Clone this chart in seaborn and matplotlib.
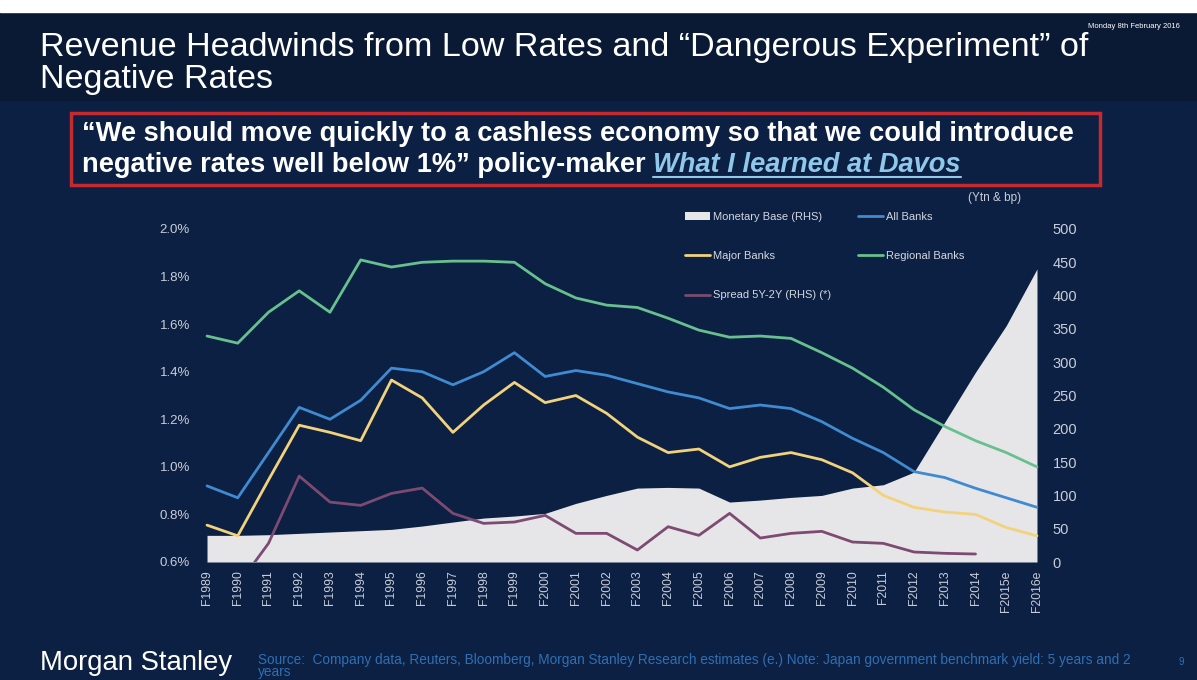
import numpy as np
import pandas as pd
import matplotlib
matplotlib.use("Agg")
import matplotlib.pyplot as plt
from matplotlib.patches import Rectangle, Patch
from matplotlib.lines import Line2D
import seaborn as sns

# ---- data -------------------------------------------------------------
years = ["F1989", "F1990", "F1991", "F1992", "F1993", "F1994", "F1995",
         "F1996", "F1997", "F1998", "F1999", "F2000", "F2001", "F2002",
         "F2003", "F2004", "F2005", "F2006", "F2007", "F2008", "F2009",
         "F2010", "F2011", "F2012", "F2013", "F2014", "F2015e", "F2016e"]

# net interest margins (%), left axis
all_banks = [0.92, 0.87, 1.06, 1.25, 1.20, 1.28, 1.415, 1.40, 1.345, 1.40,
             1.48, 1.38, 1.405, 1.385, 1.35, 1.315, 1.29, 1.245, 1.26, 1.245,
             1.19, 1.12, 1.06, 0.98, 0.955, 0.91, 0.87, 0.83]
major_banks = [0.755, 0.71, 0.945, 1.175, 1.145, 1.11, 1.365, 1.29, 1.145,
               1.26, 1.355, 1.27, 1.30, 1.225, 1.125, 1.06, 1.075, 1.00,
               1.04, 1.06, 1.03, 0.975, 0.88, 0.83, 0.81, 0.80, 0.745, 0.71]
regional_banks = [1.55, 1.52, 1.65, 1.74, 1.65, 1.87, 1.84, 1.86, 1.865,
                  1.865, 1.86, 1.77, 1.71, 1.68, 1.67, 1.625, 1.575, 1.545,
                  1.55, 1.54, 1.48, 1.415, 1.335, 1.24, 1.17, 1.11, 1.06, 1.00]

# right axis: Ytn and bp
monetary_base = [40, 40, 41, 43, 45, 47, 49, 54, 60, 66, 69, 73, 88, 100,
                 111, 112, 111, 90, 93, 97, 100, 111, 116, 135, 210, 285,
                 355, 440]
spread_5y2y = [-25, -35, 28, 129, 90, 85, 103, 111, 73, 58, 60, 70, 43, 43,
               18, 53, 40, 73, 36, 43, 46, 30, 28, 15, 13, 12, np.nan, np.nan]

left_ticks = [0.6, 0.8, 1.0, 1.2, 1.4, 1.6, 1.8, 2.0]
right_ticks = list(range(0, 501, 50))

# ---- styling ----------------------------------------------------------
sns.set_theme(style="dark")
plt.rcParams["font.family"] = ["Liberation Sans", "DejaVu Sans"]

BG = "#0b2043"
TITLE_BG = "#0a1a35"
C_ALL = "#3f8ad0"
C_MAJOR = "#f2d27c"
C_REG = "#67c08e"
C_SPREAD = "#7d4a72"
C_BASE = "#e6e6e9"
TICK_C = "#c9cdd8"
SRC_C = "#2f6fb3"

W, H = 1197, 680
fig = plt.figure(figsize=(W / 100, H / 100), dpi=100)
fig.patch.set_facecolor(BG)


def fx(px):
    return px / W


def fy(py):
    return 1 - py / H


# header band and white strip on top
fig.patches.append(Rectangle((0, fy(100)), 1, (100 - 12) / H,
                             transform=fig.transFigure, color=TITLE_BG, zorder=0))
fig.patches.append(Rectangle((0, fy(12)), 1, 12 / H,
                             transform=fig.transFigure, color="white", zorder=0))

# ---- chart ------------------------------------------------------------
df = pd.DataFrame({
    "pos": np.arange(len(years)),
    "year": years,
    "All Banks": all_banks,
    "Major Banks": major_banks,
    "Regional Banks": regional_banks,
    "Monetary Base": monetary_base,
    "Spread": spread_5y2y,
})

x0, x1 = -0.15, len(years) - 1 + 0.15
ax_left_px, ax_right_px = 202.4, 1041.6
ax = fig.add_axes([fx(ax_left_px), fy(562), (ax_right_px - ax_left_px) / W, 333 / H])
ax2 = ax.twinx()

# right-hand series underneath
ax2.fill_between(df["pos"], df["Monetary Base"], 0, color=C_BASE, lw=0, zorder=1)
sns.lineplot(data=df, x="pos", y="Spread", ax=ax2, color=C_SPREAD,
             linewidth=2.0, legend=False, zorder=2)

sns.lineplot(data=df, x="pos", y="Regional Banks", ax=ax, color=C_REG,
             linewidth=2.0, legend=False)
sns.lineplot(data=df, x="pos", y="All Banks", ax=ax, color=C_ALL,
             linewidth=2.0, legend=False)
sns.lineplot(data=df, x="pos", y="Major Banks", ax=ax, color=C_MAJOR,
             linewidth=2.0, legend=False)

ax.set_zorder(ax2.get_zorder() + 1)
ax.patch.set_visible(False)
ax2.set_facecolor("none")

ax.set_xlim(x0, x1)
ax.set_ylim(0.6, 2.0)
ax2.set_ylim(0, 500)

ax.set_xticks(df["pos"])
ax.set_xticklabels(years, rotation=90, fontsize=8.8, color=TICK_C)
ax.set_yticks(left_ticks)
ax.set_yticklabels([f"{v:.1f}%" for v in left_ticks], fontsize=9.5, color=TICK_C)
ax2.set_yticks(right_ticks)
ax2.set_yticklabels([str(v) for v in right_ticks], fontsize=10.5, color=TICK_C)

ax.tick_params(axis="x", length=0, pad=6)
ax.tick_params(axis="y", length=0, pad=9)
ax2.tick_params(axis="y", length=0, pad=8)
for a in (ax, ax2):
    a.set_xlabel("")
    a.set_ylabel("")
    a.grid(False)
    for s in a.spines.values():
        s.set_visible(False)

# legend
handles = [
    Patch(facecolor=C_BASE, edgecolor="none", label="Monetary Base (RHS)"),
    Line2D([], [], color=C_MAJOR, lw=2, label="Major Banks"),
    Line2D([], [], color=C_SPREAD, lw=2, label="Spread 5Y-2Y (RHS) (*)"),
    Line2D([], [], color=C_ALL, lw=2, label="All Banks"),
    Line2D([], [], color=C_REG, lw=2, label="Regional Banks"),
]
leg = ax.legend(handles=handles, ncol=2, loc="upper left",
                bbox_to_anchor=(fx(685), fy(212)), bbox_transform=fig.transFigure,
                frameon=False, fontsize=8, handlelength=2.25, handletextpad=0.3,
                labelspacing=2.63, columnspacing=2.35, borderaxespad=0, borderpad=0)
for t in leg.get_texts():
    t.set_color("#d4d7df")

fig.text(fx(968), fy(198), "(Ytn & bp)", fontsize=8.5, color=TICK_C,
         ha="left", va="center")

# ---- header -----------------------------------------------------------
fig.text(fx(40), fy(56), "Revenue Headwinds from Low Rates and \u201cDangerous Experiment\u201d of",
         fontsize=24.6, color="white", ha="left", va="baseline")
fig.text(fx(40), fy(88), "Negative Rates", fontsize=24.6, color="white",
         ha="left", va="baseline")
fig.text(fx(1180), fy(27), "Monday 8th February 2016", fontsize=5.5,
         color="white", ha="right", va="center")

# quote box
fig.patches.append(Rectangle((fx(71), fy(185)), (1100 - 71) / W, (185 - 113) / H,
                             transform=fig.transFigure, facecolor="none",
                             edgecolor="#c52a2f", lw=2.5, zorder=3))
QUOTE_FS = 19.6
fig.text(fx(82), fy(141),
         "\u201cWe should move quickly to a cashless economy so that we could introduce",
         fontsize=QUOTE_FS, fontweight="bold", color="white", ha="left", va="baseline")
q2 = fig.text(fx(82), fy(172), "negative rates well below 1%\u201d policy-maker ",
              fontsize=QUOTE_FS, fontweight="bold", color="white", ha="left", va="baseline")
fig.canvas.draw()
renderer = fig.canvas.get_renderer()
bb = q2.get_window_extent(renderer)
link = fig.text(bb.x1 / W, fy(172), "What I learned at Davos", fontsize=QUOTE_FS,
                fontweight="bold", fontstyle="italic", color="#8fc8ea",
                ha="left", va="baseline")
lb = link.get_window_extent(renderer)
fig.lines.append(Line2D([lb.x0 / W, lb.x1 / W], [fy(177), fy(177)],
                        transform=fig.transFigure, color="#8fc8ea", lw=1.5))

# ---- footer -----------------------------------------------------------
fig.text(fx(40), fy(663), "Morgan Stanley", fontsize=19.8, color="white",
         ha="left", va="center")
fig.text(fx(258), fy(660),
         "Source:  Company data, Reuters, Bloomberg, Morgan Stanley Research estimates (e.) "
         "Note: Japan government benchmark yield: 5 years and 2",
         fontsize=9.8, color=SRC_C, ha="left", va="center")
fig.text(fx(258), fy(679), "years", fontsize=9.8, color=SRC_C,
         ha="left", va="bottom")
fig.text(fx(1181), fy(662), "9", fontsize=7, color=SRC_C,
         ha="center", va="center")

fig.savefig("out.png", dpi=100, facecolor=fig.get_facecolor())
